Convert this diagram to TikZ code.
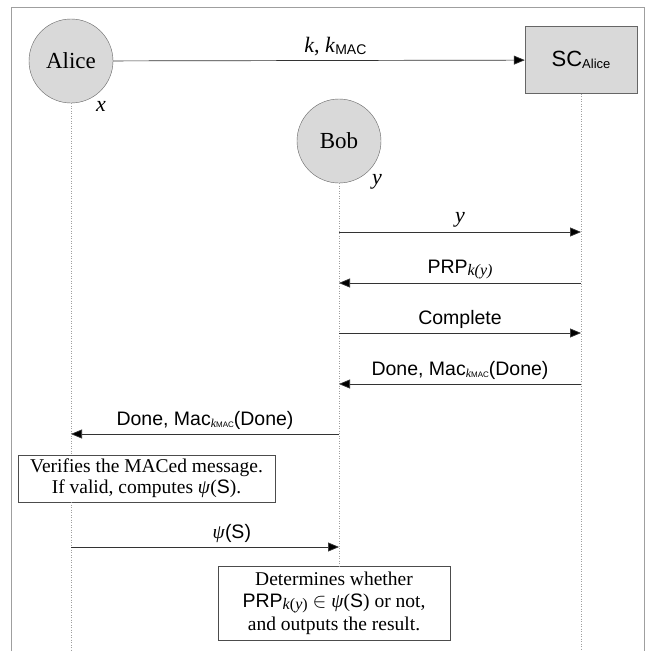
\documentclass[tikz,border=0pt]{standalone}
\usepackage{fontspec}
\setmainfont{Liberation Serif}
\setsansfont{Liberation Sans}
\usetikzlibrary{arrows.meta}

\newcommand{\fs}[1]{\fontsize{#1}{#1}\selectfont}
\newcommand{\lowsub}[2]{\raisebox{-0.15ex}{\fs{#1}#2}}

\begin{document}
\begin{tikzpicture}[x=1pt, y=-1pt,
        actor/.style={circle, draw=black!60, fill=gray!30, minimum size=84pt, inner sep=0pt, font=\rmfamily\fs{23}},
        device/.style={rectangle, draw=black!60, fill=gray!30, minimum width=112pt, minimum height=67pt, inner sep=0pt, font=\sffamily\fs{22}},
        lifeline/.style={draw=gray!75, dotted, line width=0.5pt},
        msg/.style={draw=black!80, line width=0.7pt, -{Triangle[length=11pt, width=9pt, fill=black]}},
        lbl/.style={font=\sffamily\fs{19.5}, inner sep=1pt, anchor=south, yshift=3pt},
        note/.style={rectangle, draw=black!70, fill=white, align=center, inner sep=0pt, font=\rmfamily\fontsize{19.5}{21}\selectfont},
        var/.style={font=\rmfamily\itshape\fs{22}, inner sep=0pt}
    ]
        \useasboundingbox (0,0) rectangle (653,651);

        % Frame
        \draw[gray!75, line width=0.8pt] (11.5,651) -- (11.5,7.5) -- (644,7.5) -- (644,651);

        % Rows and bottom
        \coordinate (bottom) at (0,651);
        \coordinate (r1) at (0,232);
        \coordinate (r2) at (0,283);
        \coordinate (r3) at (0,333);
        \coordinate (r4) at (0,384);
        \coordinate (r5) at (0,434);
        \coordinate (r6) at (0,547);

        % Parties
        \node[actor] (alice) at (71,61) {Alice};
        \node[device] (sc) at (581,60) {SC\lowsub{13}{Alice}};
        \node[actor] (bob) at (339,141) {Bob};
        \node[var] (xval) at (101,106) {x};
        \node[var] (yval) at (377,182) {y};

        % Notes
        \node[note, minimum width=257pt, minimum height=47pt] (verify) at (146.5,478.5)
            {Verifies the MACed message.\\If valid, computes \textit{ψ}(\textsf{S}).};
        \node[note, minimum width=232pt, minimum height=74pt, font=\rmfamily\fontsize{19.5}{22.5}\selectfont] (determ) at (334,603)
            {Determines whether\\\textsf{PRP}\lowsub{16}{\textit{k}(\textit{y})} $\in$ \textit{ψ}(\textsf{S}) or not,\\and outputs the result.};

        % Lifelines
        \draw[lifeline] (alice) -- (alice |- verify.north);
        \draw[lifeline] (alice |- verify.south) -- (alice |- bottom);
        \draw[lifeline] (bob) -- (bob |- determ.north);
        \draw[lifeline] (sc) -- (sc |- bottom);

        % Messages
        \draw[msg] (alice) -- (sc)
            node[lbl, pos=0.54, font=\rmfamily\fs{22}] {\textit{k}, \textit{k}\lowsub{14}{\sffamily MAC}};
        \draw[msg] (bob |- r1) -- (sc |- r1)
            node[lbl, midway, font=\rmfamily\fs{22}] {\textit{y}};
        \draw[msg] (sc |- r2) -- (bob |- r2)
            node[lbl, midway] {PRP\lowsub{16}{\rmfamily\itshape k(y)}};
        \draw[msg] (bob |- r3) -- (sc |- r3)
            node[lbl, midway] {Complete};
        \draw[msg] (sc |- r4) -- (bob |- r4)
            node[lbl, midway] {Done, Mac\lowsub{12}{\rmfamily\itshape k\sffamily\upshape\fs{8}MAC}(Done)};
        \draw[msg] (bob |- r5) -- (alice |- r5)
            node[lbl, midway] {Done, Mac\lowsub{12}{\rmfamily\itshape k\sffamily\upshape\fs{8}MAC}(Done)};
        \draw[msg] (alice |- r6) -- (bob |- r6)
            node[lbl, pos=0.6] {\textrm{\textit{ψ}}(S)};
    \end{tikzpicture}
\end{document}
